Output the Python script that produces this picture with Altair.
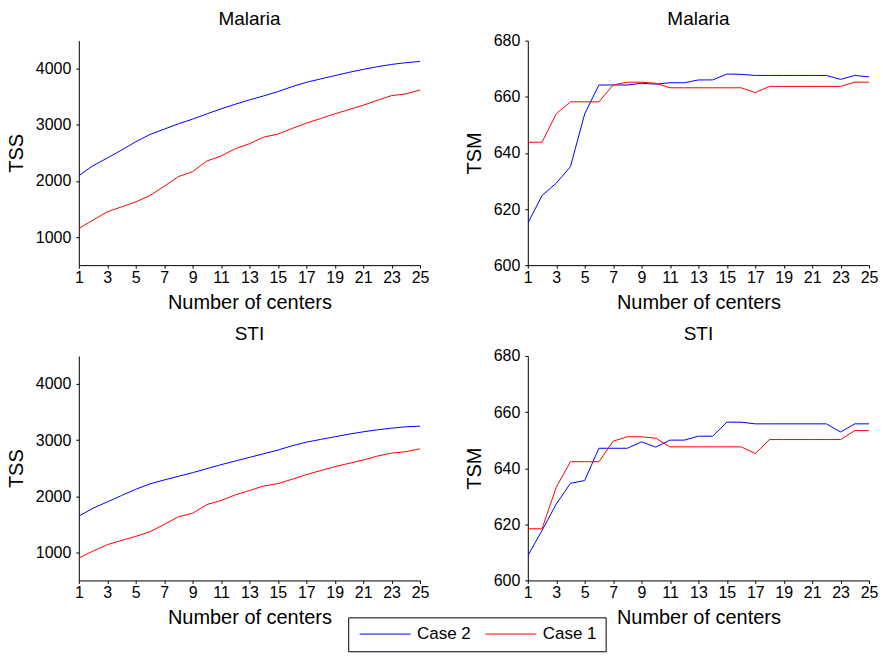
import altair as alt
import pandas as pd

centers = list(range(1, 26))
series_names = ["Case 2", "Case 1"]
series_colors = ["#0000ff", "#ff0000"]

malaria_tss_case2 = [2095, 2272, 2408, 2550, 2698, 2828, 2923, 3018, 3101, 3195, 3284, 3367, 3444,
                     3515, 3592, 3680, 3757, 3817, 3876, 3935, 3988, 4036, 4077, 4107, 4130]
malaria_tss_case1 = [1154, 1302, 1450, 1538, 1627, 1740, 1905, 2077, 2166, 2355, 2444, 2574, 2663,
                     2781, 2834, 2935, 3030, 3112, 3195, 3272, 3349, 3438, 3521, 3550, 3621]
malaria_tsm_case2 = [614.9, 624.8, 629.2, 635.1, 653.9, 664.2, 664.2, 664.2, 664.8, 664.5, 665.0, 665.0, 666.0,
                     666.0, 668.1, 668.0, 667.6, 667.6, 667.6, 667.6, 667.6, 667.6, 666.2, 667.6, 667.1]
malaria_tsm_case1 = [643.8, 643.8, 653.9, 658.2, 658.2, 658.2, 664.2, 665.2, 665.2, 664.8, 663.2, 663.2, 663.2,
                     663.2, 663.2, 663.2, 661.5, 663.7, 663.7, 663.7, 663.7, 663.7, 663.7, 665.2, 665.2]
sti_tss_case2 = [1645, 1787, 1899, 2012, 2124, 2219, 2290, 2355, 2420, 2491, 2562, 2627, 2692,
                 2757, 2822, 2899, 2964, 3012, 3059, 3107, 3148, 3183, 3213, 3237, 3249]
sti_tss_case1 = [899, 1024, 1136, 1213, 1284, 1367, 1497, 1633, 1698, 1852, 1923, 2024, 2101,
                 2183, 2225, 2302, 2385, 2456, 2527, 2586, 2645, 2716, 2769, 2793, 2846]
sti_tsm_case2 = [608.8, 617.8, 627.2, 634.6, 635.6, 647.1, 647.1, 647.1, 649.4, 647.5, 650.0, 650.0, 651.4,
                 651.4, 656.4, 656.4, 655.8, 655.8, 655.8, 655.8, 655.8, 655.8, 652.9, 655.8, 655.8]
sti_tsm_case1 = [618.4, 618.4, 633.2, 642.3, 642.3, 642.3, 649.6, 651.2, 651.2, 650.7, 647.6, 647.6, 647.6,
                 647.6, 647.6, 647.6, 645.2, 650.2, 650.2, 650.2, 650.2, 650.2, 650.2, 653.4, 653.4]

x_ticks = list(range(1, 26, 2))
tss_ticks = [1000, 2000, 3000, 4000]
tsm_ticks = [600, 620, 640, 660, 680]

FONT = "Liberation Sans"


def panel(title, y_title, case2, case1, y_domain, y_ticks, title_offset):
    df = pd.DataFrame({
        "centers": centers * 2,
        "value": case2 + case1,
        "series": ["Case 2"] * len(case2) + ["Case 1"] * len(case1),
    })
    return (
        alt.Chart(df, title=alt.Title(title, fontSize=19, fontWeight="normal", font=FONT,
                                      color="black", offset=title_offset, frame="group"))
        .mark_line(strokeWidth=1, clip=True)
        .encode(
            x=alt.X("centers:Q",
                    scale=alt.Scale(domain=[1, 25], nice=False, zero=False),
                    axis=alt.Axis(values=x_ticks, title="Number of centers", format="d")),
            y=alt.Y("value:Q",
                    scale=alt.Scale(domain=y_domain, nice=False, zero=False),
                    axis=alt.Axis(values=y_ticks, title=y_title, format="d")),
            color=alt.Color("series:N",
                            scale=alt.Scale(domain=series_names, range=series_colors),
                            legend=alt.Legend(
                                title=None, orient="none", direction="horizontal",
                                legendX=270, legendY=578,
                                strokeColor="black", fillColor="white", padding=9,
                                symbolType="stroke", symbolSize=2601, symbolStrokeWidth=1,
                                symbolOffset=2, clipHeight=15,
                                labelFontSize=17, labelFont=FONT, labelColor="black",
                                labelOffset=6, columnPadding=12,
                            )),
            order=alt.Order("centers:Q"),
        )
        .properties(width=342, height=225)
    )


# the top "680" label on the TSM axes sits above the plot edge, so those titles need a smaller offset
chart = alt.concat(
    panel("Malaria", "TSS", malaria_tss_case2, malaria_tss_case1, [500, 4500], tss_ticks, 12),
    panel("Malaria", "TSM", malaria_tsm_case2, malaria_tsm_case1, [600, 680], tsm_ticks, 4),
    panel("STI", "TSS", sti_tss_case2, sti_tss_case1, [500, 4500], tss_ticks, 12),
    panel("STI", "TSM", sti_tsm_case2, sti_tsm_case1, [600, 680], tsm_ticks, 4),
    columns=2,
    spacing={"row": 91, "column": 108},
    bounds="flush",
).properties(
    padding={"left": 6, "top": 9, "right": 5, "bottom": 3},
).configure_view(
    stroke=None,
).configure_axis(
    grid=False,
    domainColor="black",
    tickColor="black",
    tickSize=3,
    labelFont=FONT,
    labelFontSize=16,
    labelColor="black",
    labelFlush=False,
    titleFont=FONT,
    titleFontSize=20,
    titleFontWeight="normal",
    titleColor="black",
).configure_axisX(
    labelPadding=1,
    titlePadding=7,
).configure_axisY(
    labelPadding=5,
    titlePadding=9,
)

chart.save("out.html", embed_options={"renderer": "svg", "actions": False})
